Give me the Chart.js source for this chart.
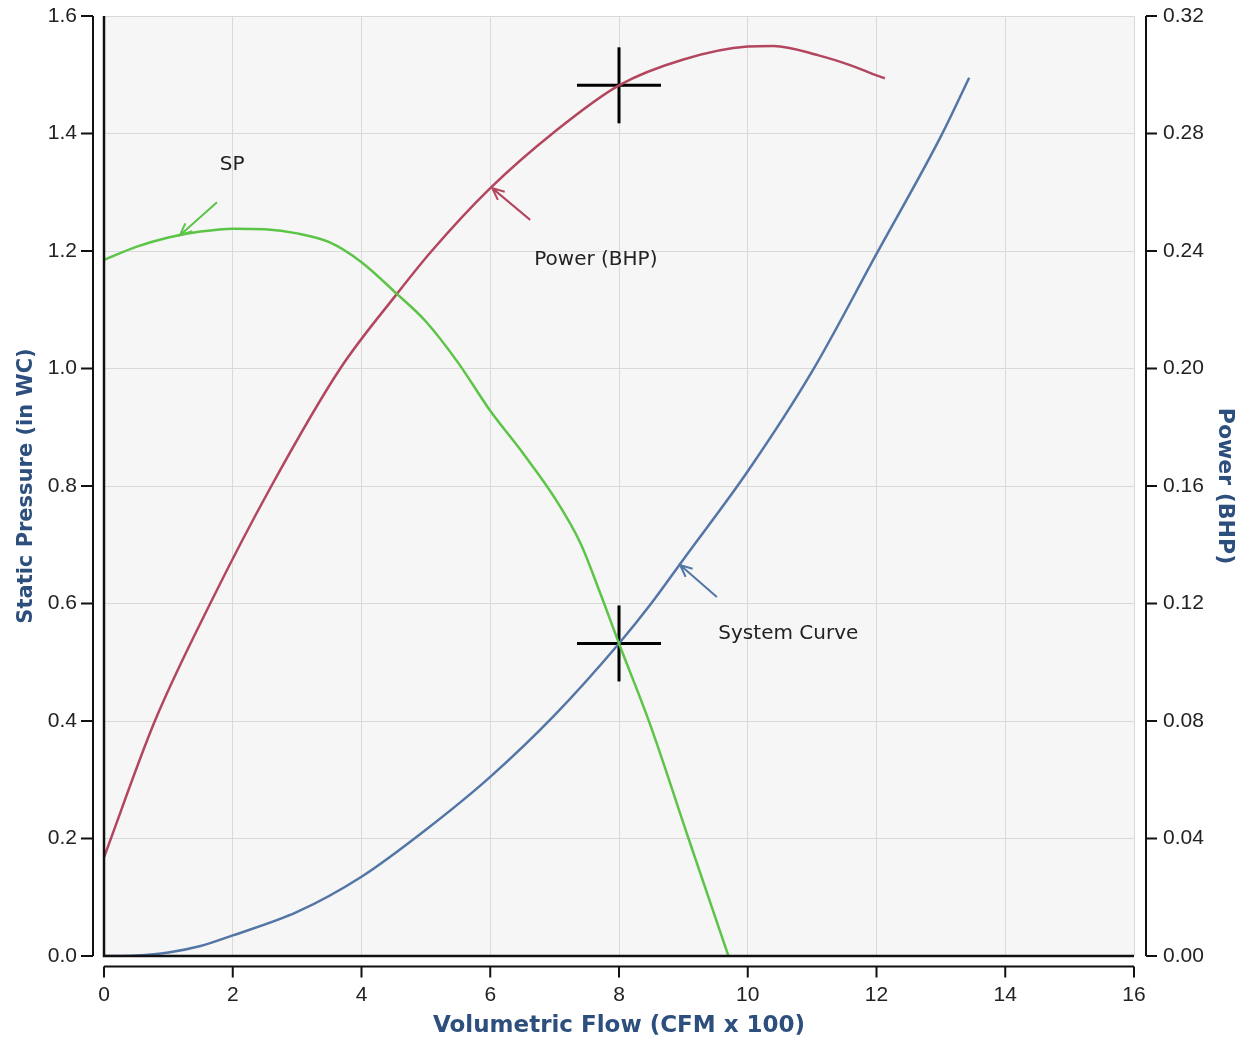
<!DOCTYPE html>
<html>
<head>
<meta charset="utf-8">
<script src="https://cdn.jsdelivr.net/npm/chart.js@4/dist/chart.umd.min.js"></script>
<style>
  html, body { margin: 0; padding: 0; background: #ffffff; }
  #wrap { width: 1247px; height: 1043px; }
</style>
</head>
<body>
<div id="wrap"><canvas id="fanChart" width="1247" height="1043"></canvas></div>
<script>
// Fan curve: static pressure (in WC) against flow (CFM x 100)
const flowSP = [0, 0.5, 1, 1.5, 2, 2.5, 3, 3.5, 4, 4.55, 5, 5.5, 6, 6.5, 7, 7.4, 7.7, 8, 8.48, 9.08, 9.7];
const staticPressure = [1.185, 1.207, 1.223, 1.233, 1.238, 1.237, 1.230, 1.215, 1.181, 1.127, 1.08, 1.01, 0.928, 0.857, 0.78, 0.703, 0.62, 0.532, 0.395, 0.20, 0.0];

// System resistance curve
const flowSystem = [0, 0.5, 1, 1.5, 2, 3, 4, 5, 6, 7, 8, 8.5, 9, 10, 11, 12, 13, 13.44];
const systemPressure = [0, 0.001, 0.006, 0.017, 0.035, 0.075, 0.135, 0.215, 0.305, 0.41, 0.532, 0.60, 0.675, 0.825, 0.995, 1.195, 1.395, 1.495];

// Shaft power (BHP)
const flowPower = [0, 0.79, 1.65, 2.6, 3.67, 4.55, 5.09, 6, 7, 8, 9, 10, 10.4, 11.1, 11.6, 12, 12.13];
const powerBHP = [0.0336, 0.080, 0.120, 0.160, 0.200, 0.2254, 0.240, 0.2614, 0.2806, 0.2964, 0.3052, 0.3096, 0.3098, 0.3066, 0.3032, 0.2998, 0.2988];

// Operating point
const opFlow = 8;
const opPressure = 0.532;
const opPower = 0.2964;

// Axis ticks
const flowTicks = [0, 2, 4, 6, 8, 10, 12, 14, 16];
const pressureTicks = [0, 0.2, 0.4, 0.6, 0.8, 1.0, 1.2, 1.4, 1.6];
const powerTicks = [0, 0.04, 0.08, 0.12, 0.16, 0.20, 0.24, 0.28, 0.32];

const GREEN = '#5cc446';
const RED = '#b3465f';
const BLUE = '#5376a6';
const TITLE_BLUE = '#2d4f7d';

// Curve callouts, in flow / pressure units
const callouts = [
  { text: 'SP', color: GREEN, label: [1.99, 1.346], from: [1.755, 1.283], to: [1.18, 1.227] },
  { text: 'Power (BHP)', color: RED, label: [7.64, 1.185], from: [6.62, 1.253], to: [6.03, 1.307] },
  { text: 'System Curve', color: BLUE, label: [10.63, 0.548], from: [9.52, 0.611], to: [8.95, 0.6655] }
];

const zip = (xs, ys) => xs.map((x, i) => ({ x: x, y: ys[i] }));

const framePlugin = {
  id: 'frame',
  beforeDraw(chart) {
    const { ctx, chartArea: a } = chart;
    ctx.save();
    ctx.fillStyle = '#f6f6f6';
    ctx.fillRect(a.left, a.top, a.right - a.left, a.bottom - a.top);
    ctx.restore();
  },
  afterDraw(chart) {
    const { ctx, chartArea: a, scales } = chart;
    const sx = scales.x, sy = scales.y, sp = scales.y2;
    ctx.save();
    ctx.strokeStyle = '#111';
    ctx.lineCap = 'butt';

    // plot frame: left and bottom edges
    ctx.lineWidth = 2.5;
    ctx.beginPath();
    ctx.moveTo(a.left, a.top);
    ctx.lineTo(a.left, a.bottom);
    ctx.lineTo(a.right, a.bottom);
    ctx.stroke();

    // detached axis lines with tick marks
    ctx.lineWidth = 2;
    const lx = a.left - 11, rx = a.right + 12, by = a.bottom + 10.5;
    ctx.beginPath();
    ctx.moveTo(lx, a.top); ctx.lineTo(lx, a.bottom);
    pressureTicks.forEach(v => { const y = sy.getPixelForValue(v); ctx.moveTo(lx - 12, y); ctx.lineTo(lx, y); });
    ctx.moveTo(rx, a.top); ctx.lineTo(rx, a.bottom);
    powerTicks.forEach(v => { const y = sp.getPixelForValue(v); ctx.moveTo(rx, y); ctx.lineTo(rx + 11, y); });
    ctx.moveTo(a.left, by); ctx.lineTo(a.right, by);
    flowTicks.forEach(v => { const x = sx.getPixelForValue(v); ctx.moveTo(x, by); ctx.lineTo(x, by + 11); });
    ctx.stroke();

    // callouts
    callouts.forEach(c => {
      const x0 = sx.getPixelForValue(c.from[0]), y0 = sy.getPixelForValue(c.from[1]);
      const x1 = sx.getPixelForValue(c.to[0]), y1 = sy.getPixelForValue(c.to[1]);
      const ang = Math.atan2(y1 - y0, x1 - x0);
      ctx.strokeStyle = c.color;
      ctx.lineWidth = 2;
      ctx.beginPath();
      ctx.moveTo(x0, y0); ctx.lineTo(x1, y1);
      ctx.moveTo(x1 - 13 * Math.cos(ang - 0.42), y1 - 13 * Math.sin(ang - 0.42));
      ctx.lineTo(x1, y1);
      ctx.lineTo(x1 - 13 * Math.cos(ang + 0.42), y1 - 13 * Math.sin(ang + 0.42));
      ctx.stroke();
      ctx.fillStyle = '#222';
      ctx.font = '20px "DejaVu Sans"';
      ctx.textAlign = 'center';
      ctx.textBaseline = 'middle';
      ctx.fillText(c.text, sx.getPixelForValue(c.label[0]), sy.getPixelForValue(c.label[1]));
    });
    ctx.restore();
  }
};

const tickFont = { family: '"Liberation Sans", Arial, sans-serif', size: 21 };
const titleFont = { family: '"DejaVu Sans", Verdana, sans-serif', size: 21, weight: 'bold' };

// invisible tick marks give the label offset
const gridOpts = (onArea, len) => ({
  display: true, drawOnChartArea: onArea, color: '#d9d9d9', lineWidth: 1,
  drawTicks: true, tickLength: len, tickColor: 'rgba(0,0,0,0)'
});

// keep the plot area fixed: no extra room reserved for overhanging labels
const fixVertical = w => s => { s.width = w; s.paddingTop = 0; s.paddingBottom = 0; };
const fixHorizontal = h => s => { s.height = h; s.paddingLeft = 0; s.paddingRight = 0; };

new Chart(document.getElementById('fanChart'), {
  type: 'scatter',
  data: {
    datasets: [
      {
        label: 'SP', data: zip(flowSP, staticPressure), yAxisID: 'y',
        showLine: true, borderColor: GREEN, borderWidth: 2.5, pointRadius: 0,
        cubicInterpolationMode: 'monotone'
      },
      {
        label: 'System Curve', data: zip(flowSystem, systemPressure), yAxisID: 'y',
        showLine: true, borderColor: BLUE, borderWidth: 2.5, pointRadius: 0,
        cubicInterpolationMode: 'monotone'
      },
      {
        label: 'Power (BHP)', data: zip(flowPower, powerBHP), yAxisID: 'y2',
        showLine: true, borderColor: RED, borderWidth: 2.5, pointRadius: 0,
        cubicInterpolationMode: 'monotone'
      },
      {
        label: 'Operating point', yAxisID: 'y',
        data: [{ x: opFlow, y: opPressure }, { x: opFlow, y: opPressure }],
        showLine: false, pointStyle: 'line', pointRadius: [42, 38], pointRotation: [0, 90],
        pointBorderColor: '#000', pointBorderWidth: 3, pointBackgroundColor: '#000'
      },
      {
        label: 'Operating power', yAxisID: 'y2',
        data: [{ x: opFlow, y: opPower }, { x: opFlow, y: opPower }],
        showLine: false, pointStyle: 'line', pointRadius: [42, 38], pointRotation: [0, 90],
        pointBorderColor: '#000', pointBorderWidth: 3, pointBackgroundColor: '#000'
      }
    ]
  },
  options: {
    responsive: false,
    devicePixelRatio: 1,
    animation: false,
    layout: { autoPadding: false, padding: { top: 16, left: 0, right: 0, bottom: 0 } },
    plugins: { legend: { display: false }, tooltip: { enabled: false } },
    scales: {
      x: {
        type: 'linear', min: flowTicks[0], max: flowTicks[flowTicks.length - 1],
        afterBuildTicks: s => { s.ticks = flowTicks.map(v => ({ value: v })); },
        afterFit: fixHorizontal(87),
        grid: gridOpts(true, 27),
        border: { display: false },
        ticks: { font: tickFont, color: '#222', padding: 0, callback: v => String(v) },
        title: { display: true, text: 'Volumetric Flow (CFM x 100)', color: TITLE_BLUE,
                 font: { ...titleFont, size: 23 }, padding: { top: 0, bottom: 3 } }
      },
      y: {
        type: 'linear', position: 'left', min: pressureTicks[0], max: pressureTicks[pressureTicks.length - 1],
        afterBuildTicks: s => { s.ticks = pressureTicks.map(v => ({ value: v })); },
        afterFit: fixVertical(104),
        grid: gridOpts(true, 27),
        border: { display: false },
        ticks: { font: tickFont, color: '#222', padding: 0, callback: v => Number(v).toFixed(1) },
        title: { display: true, text: 'Static Pressure (in WC)', color: TITLE_BLUE,
                 font: titleFont, padding: { top: 14, bottom: 0 } }
      },
      y2: {
        type: 'linear', position: 'right', min: powerTicks[0], max: powerTicks[powerTicks.length - 1],
        afterBuildTicks: s => { s.ticks = powerTicks.map(v => ({ value: v })); },
        afterFit: fixVertical(113),
        grid: gridOpts(false, 29),
        border: { display: false },
        ticks: { font: tickFont, color: '#222', padding: 0, callback: v => Number(v).toFixed(2) },
        title: { display: true, text: 'Power (BHP)', color: TITLE_BLUE,
                 font: { ...titleFont, size: 22 }, padding: { top: 9, bottom: 0 } }
      }
    }
  },
  plugins: [framePlugin]
});
</script>
</body>
</html>
